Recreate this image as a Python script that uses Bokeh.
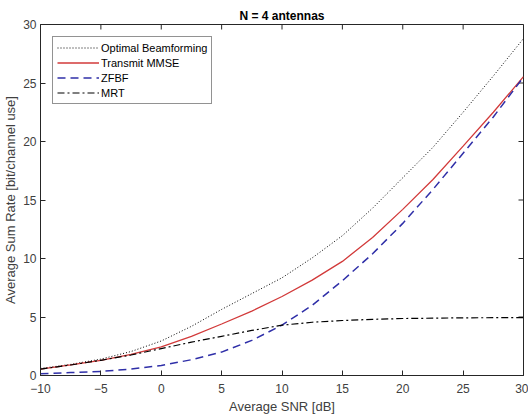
from bokeh.plotting import figure
from bokeh.models import Range1d, Legend, LegendItem, FixedTicker
from bokeh.embed import file_html
from bokeh.resources import INLINE

snr_db = [-10, -7.5, -5, -2.5, 0, 2.5, 5, 7.5, 10, 12.5, 15, 17.5, 20, 22.5, 25, 27.5, 30]
optimal_bf = [0.6, 0.95, 1.4, 2.05, 2.95, 4.2, 5.65, 7.0, 8.35, 10.05, 11.95, 14.3, 16.9, 19.5, 22.5, 25.6, 28.8]
transmit_mmse = [0.55, 0.9, 1.3, 1.8, 2.45, 3.35, 4.4, 5.5, 6.75, 8.15, 9.75, 11.8, 14.2, 16.75, 19.6, 22.5, 25.55]
zfbf = [0.15, 0.25, 0.35, 0.55, 0.85, 1.35, 2.0, 3.0, 4.3, 6.0, 8.1, 10.4, 13.0, 15.9, 19.0, 22.1, 25.5]
mrt = [0.55, 0.9, 1.3, 1.75, 2.3, 2.85, 3.35, 3.85, 4.3, 4.55, 4.7, 4.8, 4.87, 4.9, 4.93, 4.94, 4.95]

x_ticks = [-10, -5, 0, 5, 10, 15, 20, 25, 30]
y_ticks = [0, 5, 10, 15, 20, 25, 30]

FONT = "Liberation Sans"
TICK_COLOR = "#404040"
AX_COLOR = "#262626"

X0, X1, Y0, Y1 = -10, 30, 0, 30
FRAME_W, FRAME_H = 484, 351
TICK_PX = 5

p = figure(width=528, height=416, output_backend="svg", toolbar_location=None,
           x_range=Range1d(X0, X1), y_range=Range1d(Y0, Y1),
           min_border_left=39, min_border_right=5, min_border_top=24, min_border_bottom=41,
           title="N = 4 antennas")
p.title.align = "center"
p.title.text_font = FONT
p.title.text_font_size = "12px"
p.title.text_font_style = "bold"
p.title.text_color = "#000000"
p.title.offset = 0
p.title.standoff = 4

p.xgrid.visible = False
p.ygrid.visible = False
p.outline_line_color = AX_COLOR
p.background_fill_color = "white"
p.border_fill_color = "white"

for ax in p.xaxis:
    ax.ticker = FixedTicker(ticks=x_ticks)
    ax.axis_label = "Average SNR [dB]"
    ax.major_label_standoff = 8
    ax.axis_label_standoff = 3
for ax in p.yaxis:
    ax.ticker = FixedTicker(ticks=y_ticks)
    ax.axis_label = "Average Sum Rate [bit/channel use]"
    ax.major_label_standoff = 4
    ax.axis_label_standoff = 2

for ax in list(p.xaxis) + list(p.yaxis):
    ax.major_tick_in = TICK_PX
    ax.major_tick_out = 0
    ax.minor_tick_in = 0
    ax.minor_tick_out = 0
    ax.axis_line_color = AX_COLOR
    ax.major_tick_line_color = AX_COLOR
    ax.major_label_text_font = FONT
    ax.major_label_text_font_size = "12px"
    ax.major_label_text_color = TICK_COLOR
    ax.axis_label_text_font = FONT
    ax.axis_label_text_font_size = "13px"
    ax.axis_label_text_font_style = "normal"
    ax.axis_label_text_color = TICK_COLOR

# inward ticks on the top and right frame edges (MATLAB "box on"), placed at the tick values
dy = TICK_PX * (Y1 - Y0) / FRAME_H
dx = TICK_PX * (X1 - X0) / FRAME_W
p.segment(x0=x_ticks, y0=[Y1] * len(x_ticks), x1=x_ticks, y1=[Y1 - dy] * len(x_ticks),
          line_color=AX_COLOR, line_width=1)
p.segment(x0=[X1] * len(y_ticks), y0=y_ticks, x1=[X1 - dx] * len(y_ticks), y1=y_ticks,
          line_color=AX_COLOR, line_width=1)

r1 = p.line(snr_db, optimal_bf, line_color="black", line_width=1, line_dash="1 2")
r2 = p.line(snr_db, transmit_mmse, line_color="#d23a3a", line_width=1.3)
r3 = p.line(snr_db, zfbf, line_color="#2f2fa8", line_width=1.5, line_dash="8 5")
r4 = p.line(snr_db, mrt, line_color="black", line_width=1.2, line_dash="7 3 2 3")

legend = Legend(items=[
    LegendItem(label="Optimal Beamforming", renderers=[r1]),
    LegendItem(label="Transmit MMSE", renderers=[r2]),
    LegendItem(label="ZFBF", renderers=[r3]),
    LegendItem(label="MRT", renderers=[r4]),
], location="top_left")
legend.label_text_font = FONT
legend.label_text_font_size = "11px"
legend.label_text_color = "#000000"
legend.glyph_width = 42
legend.glyph_height = 13
legend.label_height = 13
legend.label_standoff = 2
legend.spacing = 2
legend.padding = 4
legend.margin = 12
legend.border_line_color = AX_COLOR
legend.border_line_width = 1
legend.background_fill_alpha = 1
p.add_layout(legend)

open("out.html", "w").write(file_html(p, INLINE))
